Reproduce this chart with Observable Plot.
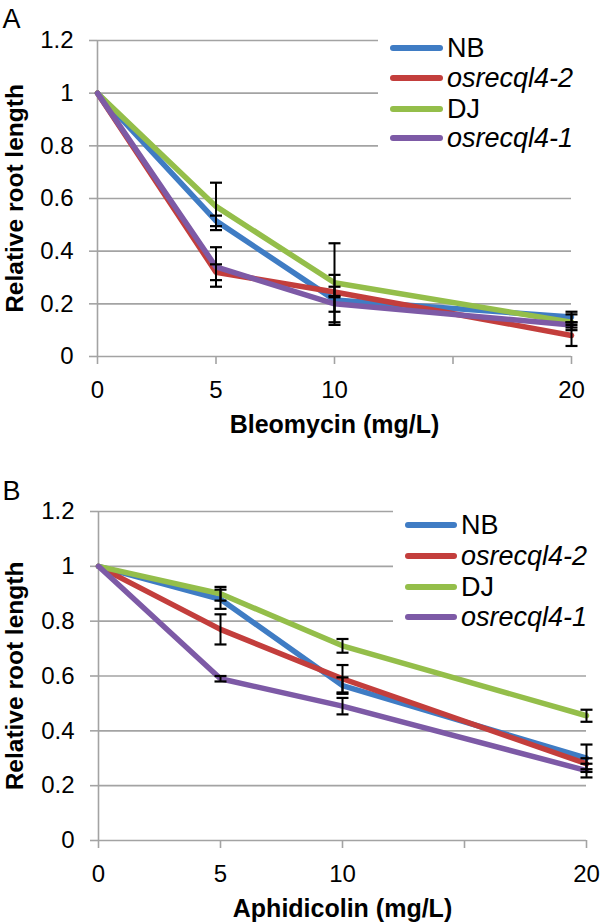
<!DOCTYPE html>
<html>
<head>
<meta charset="utf-8">
<script src="https://cdn.jsdelivr.net/npm/d3@7"></script>
<script src="https://cdn.jsdelivr.net/npm/@observablehq/plot@0.6"></script>
<style>
  html, body { margin: 0; padding: 0; background: #fff; }
  #wrap { position: relative; width: 600px; height: 923px; background: #fff; font-family: "Liberation Sans", Arial, sans-serif; overflow: hidden; }
  #wrap svg { position: absolute; left: 0; overflow: visible; font-family: "Liberation Sans", Arial, sans-serif; }
  #wrap svg [aria-label$="tick label"], #wrap svg [aria-label$="tick label"] text { font-size: 24px !important; fill: #000 !important; }
  #wrap svg .ytitle, #wrap svg .ytitle text { font-size: 24.5px !important; font-weight: bold; }
  #wrap svg .xtitle, #wrap svg .xtitle text { font-size: 25px !important; font-weight: bold; }
  #wrap svg .letter, #wrap svg .letter text { font-size: 27px !important; }
  .legend { position: absolute; background: #fff; }
  .lrow { position: absolute; left: 0; display: flex; align-items: center; height: 30px; font-size: 27px; color: #000; white-space: nowrap; }
  .lline { display: inline-block; height: 6px; border-radius: 3px; }
</style>
</head>
<body>
<div id="wrap"></div>
<script>
// ---- data ----
const doses = [0, 5, 10, 20];
const seriesNames = ["NB", "osrecql4-2", "DJ", "osrecql4-1"];
const seriesItalic = [false, true, false, true];
const seriesColors = ["#3F7CC4", "#C33E3C", "#94BE4A", "#7D5AA6"];

// Panel A: Bleomycin
const bleoNB = [1, 0.515, 0.215, 0.15];
const bleoNBErr = [0, 0.02, 0.095, 0.02];
const bleoR2 = [1, 0.32, 0.245, 0.08];
const bleoR2Err = [0, 0.03, 0.02, 0.04];
const bleoDJ = [1, 0.57, 0.28, 0.13];
const bleoDJErr = [0, 0.09, 0.15, 0.03];
const bleoR1 = [1, 0.34, 0.2, 0.12];
const bleoR1Err = [0, 0.075, 0.03, 0.01];

// Panel B: Aphidicolin
const aphNB = [1, 0.88, 0.565, 0.30];
const aphNBErr = [0, 0.035, 0.03, 0.05];
const aphR2 = [1, 0.77, 0.59, 0.28];
const aphR2Err = [0, 0.055, 0.05, 0.02];
const aphDJ = [1, 0.90, 0.71, 0.455];
const aphDJErr = [0, 0.025, 0.025, 0.022];
const aphR1 = [1, 0.59, 0.49, 0.255];
const aphR1Err = [0, 0.01, 0.03, 0.025];

const yTicks = [0, 0.2, 0.4, 0.6, 0.8, 1, 1.2];
const yTickLabels = ["0", "0.2", "0.4", "0.6", "0.8", "1", "1.2"];
const xTicks = [0, 5, 10, 15, 20];
const xTickLabels = ["0", "5", "10", "", "20"];

const yTitle = "Relative root length";
const xTitleA = "Bleomycin (mg/L)";
const xTitleB = "Aphidicolin (mg/L)";

// ---- drawing ----
const FONT = "Liberation Sans, Arial, sans-serif";
const GRAY = "#a3a3a3";
const yLabelMap = new Map(yTicks.map((t, i) => [t, yTickLabels[i]]));
const xLabelMap = new Map(xTicks.map((t, i) => [t, xTickLabels[i]]));
const capSymbol = { draw(ctx) { ctx.moveTo(-6, 0); ctx.lineTo(6, 0); } };

function makePanel({vals, errs, xTitle, letter, letterBase, top, height, mt, mb, ml, mr}) {
  const rows = seriesNames.flatMap((s, si) =>
    doses.map((d, di) => ({series: s, dose: d, value: vals[si][di], err: errs[si][di]})));
  const errRows = rows.filter(d => d.err > 0);
  const caps = errRows.flatMap(d => [
    {dose: d.dose, y: d.value - d.err},
    {dose: d.dose, y: d.value + d.err}
  ]);
  const svg = Plot.plot({
    width: 600,
    height,
    marginTop: mt, marginBottom: mb, marginLeft: ml, marginRight: mr,
    style: {fontFamily: FONT, fontSize: "24px", background: "transparent", color: "#000"},
    x: {domain: [0, 20]},
    y: {domain: [0, 1.2]},
    color: {domain: seriesNames, range: seriesColors},
    marks: [
      Plot.ruleY(yTicks.filter(t => t > 0), {stroke: GRAY, strokeWidth: 1.6}),
      Plot.ruleX([0], {stroke: GRAY, strokeWidth: 1.6}),
      Plot.ruleY([0], {stroke: GRAY, strokeWidth: 1.6}),
      Plot.axisY({ticks: yTicks, tickSize: 8, tickPadding: 16, tickFormat: d => yLabelMap.get(d),
        stroke: GRAY, strokeWidth: 1.6, fill: "#000", fontSize: 24, label: null}),
      Plot.axisX({ticks: xTicks, tickSize: 8, tickPadding: 16, tickFormat: d => xLabelMap.get(d),
        stroke: GRAY, strokeWidth: 1.6, fill: "#000", fontSize: 24, label: null}),
      Plot.line(rows, {x: "dose", y: "value", z: "series", stroke: "series",
        strokeWidth: 5.5, strokeLinejoin: "round", strokeLinecap: "round"}),
      Plot.ruleX(errRows, {x: "dose", y1: d => d.value - d.err, y2: d => d.value + d.err,
        stroke: "#000", strokeWidth: 2}),
      Plot.dot(caps, {x: "dose", y: "y", symbol: capSymbol, stroke: "#000", strokeWidth: 2.2, fill: "none"}),
      Plot.text([yTitle], {frameAnchor: "left", rotate: -90, dx: 22 - ml, textAnchor: "middle",
        lineAnchor: "bottom", fontWeight: "bold", fontSize: 24.5, fill: "#000", className: "ytitle"}),
      Plot.text([xTitle], {frameAnchor: "bottom", dy: 76, textAnchor: "middle",
        lineAnchor: "bottom", fontWeight: "bold", fontSize: 25, fill: "#000", className: "xtitle"}),
      Plot.text([letter], {frameAnchor: "top-left", dx: 2 - ml, dy: letterBase - mt,
        textAnchor: "start", lineAnchor: "bottom", fontSize: 27, fill: "#000", className: "letter"})
    ]
  });
  svg.style.top = top + "px";
  return svg;
}

function makeLegend({left, top, width, height, rowTops, lineLen, gap}) {
  const box = document.createElement("div");
  box.className = "legend";
  box.style.left = left + "px";
  box.style.top = top + "px";
  box.style.width = width + "px";
  box.style.height = height + "px";
  seriesNames.forEach((s, i) => {
    const row = document.createElement("div");
    row.className = "lrow";
    row.style.top = (rowTops[i] - top - 15) + "px";
    row.style.left = "12px";
    const ln = document.createElement("span");
    ln.className = "lline";
    ln.style.width = lineLen + "px";
    ln.style.background = seriesColors[i];
    ln.style.marginRight = gap + "px";
    const tx = document.createElement("span");
    tx.textContent = s;
    if (seriesItalic[i]) tx.style.fontStyle = "italic";
    row.appendChild(ln);
    row.appendChild(tx);
    box.appendChild(row);
  });
  return box;
}

const wrap = document.getElementById("wrap");
wrap.appendChild(makePanel({
  vals: [bleoNB, bleoR2, bleoDJ, bleoR1],
  errs: [bleoNBErr, bleoR2Err, bleoDJErr, bleoR1Err],
  xTitle: xTitleA, letter: "A", letterBase: 27, top: 0, height: 440, mt: 40, mb: 84, ml: 97, mr: 29
}));
wrap.appendChild(makePanel({
  vals: [aphNB, aphR2, aphDJ, aphR1],
  errs: [aphNBErr, aphR2Err, aphDJErr, aphR1Err],
  xTitle: xTitleB, letter: "B", letterBase: 59, top: 440, height: 483, mt: 71, mb: 83, ml: 98, mr: 14
}));
wrap.appendChild(makeLegend({left: 378, top: 30, width: 222, height: 138,
  rowTops: [48, 78, 109, 138], lineLen: 53, gap: 4}));
wrap.appendChild(makeLegend({left: 393, top: 503, width: 207, height: 130,
  rowTops: [525, 556, 587, 617], lineLen: 52, gap: 4}));
</script>
</body>
</html>
